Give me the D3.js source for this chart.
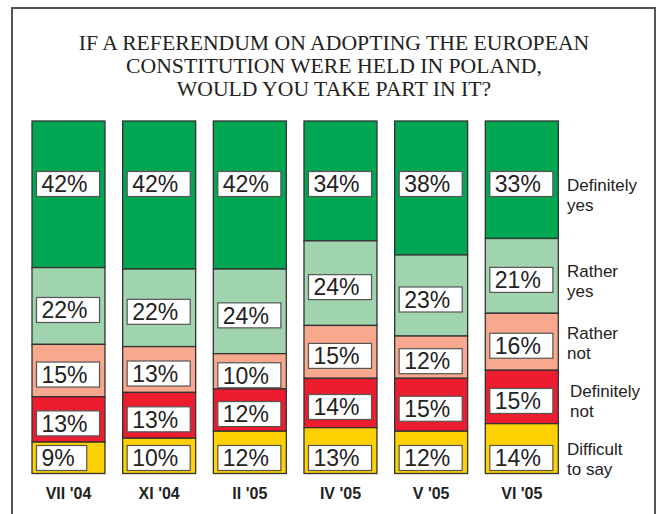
<!DOCTYPE html>
<html>
<head>
<meta charset="utf-8">
<script src="https://cdn.jsdelivr.net/npm/d3@7"></script>
<style>
  html, body { margin: 0; padding: 0; background: #fff; }
  svg { display: block; }
</style>
</head>
<body>
<svg id="chart" width="661" height="514"></svg>
<script>
// Survey waves (x axis)
const waves = ["VII '04", "XI '04", "II '05", "IV '05", "V '05", "VI '05"];

// Answer categories, top of the stack first
const answers = ["Definitely yes", "Rather yes", "Rather not", "Definitely not", "Difficult to say"];
const answerLines = [["Definitely", "yes"], ["Rather", "yes"], ["Rather", "not"], ["Definitely", "not"], ["Difficult", "to say"]];

// Percentages per wave
const definitelyYes = [42, 42, 42, 34, 38, 33];
const ratherYes     = [22, 22, 24, 24, 23, 21];
const ratherNot     = [15, 13, 10, 15, 12, 16];
const definitelyNot = [13, 13, 12, 14, 15, 15];
const difficult     = [9, 10, 12, 13, 12, 14];

const titleLines = [
  "IF A REFERENDUM ON ADOPTING THE EUROPEAN",
  "CONSTITUTION WERE HELD IN POLAND,",
  "WOULD YOU TAKE PART IN IT?"
];

const colors = ["#00a651", "#9fd4ae", "#f8a98d", "#ed1c2e", "#fdd200"];

const seriesValues = [definitelyYes, ratherYes, ratherNot, definitelyNot, difficult];
const rows = waves.map((w, i) => {
  const r = { wave: w };
  answers.forEach((a, k) => { r[a] = seriesValues[k][i]; });
  return r;
});

const svg = d3.select("#chart");

// outer frame (open at the bottom edge of the page)
svg.append("path")
  .attr("d", "M12,530 L12,8 L655,8 L655,530")
  .attr("fill", "none")
  .attr("stroke", "#555")
  .attr("stroke-width", 2);

// title
const title = svg.append("text")
  .attr("text-anchor", "middle")
  .attr("font-family", "'Liberation Serif', 'Times New Roman', serif")
  .attr("font-size", 21.7)
  .attr("fill", "#222");
titleLines.forEach((t, i) => {
  title.append("tspan").attr("x", 334).attr("y", 50 + i * 23).text(t);
});

const x = d3.scaleBand()
  .domain(waves)
  .range([32, 558.3])
  .paddingInner(0.195)
  .paddingOuter(0);

const y = d3.scaleLinear().domain([0, 1]).range([121, 473.5]);

const stacked = d3.stack()
  .keys(answers)
  .offset(d3.stackOffsetExpand)(rows);

const layers = svg.append("g").selectAll("g.layer")
  .data(stacked)
  .join("g")
  .attr("class", "layer")
  .attr("fill", (d, i) => colors[i]);

layers.selectAll("rect")
  .data(d => d)
  .join("rect")
  .attr("x", d => x(d.data.wave))
  .attr("width", x.bandwidth())
  .attr("y", d => y(d[0]))
  .attr("height", d => y(d[1]) - y(d[0]))
  .attr("stroke", "#333")
  .attr("stroke-width", 1.3);

// value labels in white boxes
const labelFont = 23;
const labelG = svg.append("g")
  .attr("font-family", "'Liberation Sans', Arial, sans-serif")
  .attr("font-size", labelFont)
  .attr("fill", "#222");

const last = answers.length - 1;
stacked.forEach((layer, k) => {
  layer.forEach((d, i) => {
    const val = seriesValues[k][i];
    const top = y(d[0]), bot = y(d[1]);
    let cy;
    if (k === 0) cy = top + 63;
    else if (k === last) cy = bot - 15.5;
    else cy = (top + bot) / 2 + 4;
    const g = labelG.append("g");
    const t = g.append("text")
      .attr("x", x(d.data.wave) + 9.5)
      .attr("y", cy + 8.3)
      .text(val + "%");
    const w = t.node().getComputedTextLength();
    g.insert("rect", "text")
      .attr("x", x(d.data.wave) + 4.5)
      .attr("y", cy - 12.5)
      .attr("width", w + 17)
      .attr("height", 25)
      .attr("fill", "#fff")
      .attr("stroke", "#555")
      .attr("stroke-width", 1.2);
  });
});

// x axis labels
svg.append("g").selectAll("text")
  .data(waves)
  .join("text")
  .attr("x", d => x(d) + x.bandwidth() / 2)
  .attr("y", 499)
  .attr("text-anchor", "middle")
  .attr("font-family", "'Liberation Sans', Arial, sans-serif")
  .attr("font-weight", "bold")
  .attr("font-size", 16)
  .attr("fill", "#222")
  .text(d => d);

// category names on the right, next to the last bar
const lastWave = waves[waves.length - 1];
const legendG = svg.append("g")
  .attr("font-family", "'Liberation Sans', Arial, sans-serif")
  .attr("font-size", 17)
  .attr("fill", "#222");
const lastLayerMid = stacked.map(layer => {
  const d = layer.find(p => p.data.wave === lastWave);
  return (y(d[0]) + y(d[1])) / 2;
});
const legendShift = [10, 4, 0, 3, 9];
const legendX = [567, 567, 567, 570, 567];
answerLines.forEach((lines, k) => {
  const cy = (k === 0 ? y(0) + 63 : lastLayerMid[k]) + legendShift[k];
  const t = legendG.append("text");
  lines.forEach((ln, j) => {
    t.append("tspan")
      .attr("x", legendX[k])
      .attr("y", cy - 3 + j * 20)
      .text(ln);
  });
});
</script>
</body>
</html>
